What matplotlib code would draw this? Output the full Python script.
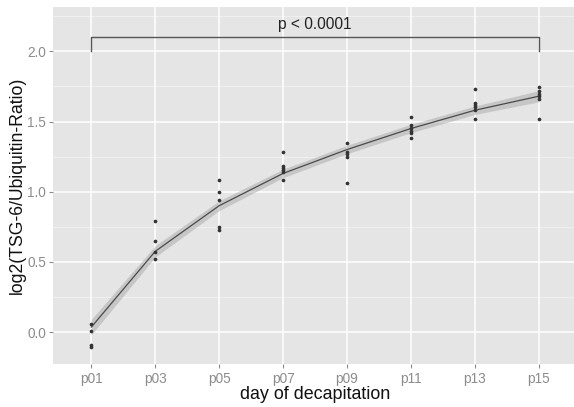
import matplotlib
matplotlib.use("Agg")
import matplotlib.pyplot as plt
import numpy as np

days = ["p01", "p03", "p05", "p07", "p09", "p11", "p13", "p15"]
obs = [
    [0.06, 0.01, -0.09, -0.11],
    [0.79, 0.65, 0.57, 0.52],
    [1.08, 1.00, 0.94, 0.75, 0.73],
    [1.28, 1.185, 1.17, 1.155, 1.14, 1.08],
    [1.35, 1.285, 1.27, 1.25, 1.065],
    [1.53, 1.475, 1.455, 1.435, 1.415, 1.38],
    [1.73, 1.635, 1.62, 1.605, 1.58, 1.515],
    [1.745, 1.72, 1.695, 1.68, 1.66, 1.515],
]
fit = [0.035, 0.575, 0.90, 1.13, 1.30, 1.45, 1.58, 1.68]
ci_half = [0.055, 0.04, 0.035, 0.03, 0.03, 0.03, 0.03, 0.04]
y_ticks = [0.0, 0.5, 1.0, 1.5, 2.0]
p_label = "p < 0.0001"
bracket_low, bracket_high = 2.0, 2.1

W, H = 574, 407
fig = plt.figure(figsize=(W / 100, H / 100), dpi=100)
plt.rcParams['font.family'] = ['Liberation Sans', 'DejaVu Sans']

left, right, top, bottom = 53, 577, 7, 364
ax = fig.add_axes([left / W, 1 - bottom / H, (right - left) / W, (bottom - top) / H])
ax.set_facecolor("#E5E5E5")
for s in ax.spines.values():
    s.set_visible(False)

x = np.arange(len(days))
ax.set_xlim(-0.6, len(days) - 1 + 0.6)
ax.set_ylim(-0.228, 2.316)

# minor grid
for yv in np.arange(-0.25, 2.31, 0.5):
    ax.axhline(yv, color="#F2F2F2", lw=0.6, zorder=0)
for yv in y_ticks:
    ax.axhline(yv, color="white", lw=1.1, zorder=0)
for xv in x:
    ax.axvline(xv, color="white", lw=1.1, zorder=0)

fit = np.array(fit)
ci = np.array(ci_half)
ax.fill_between(x, fit - ci, fit + ci, color="#999999", alpha=0.4, lw=0, zorder=2)
ax.plot(x, fit, color="#4a4a4a", lw=0.9, zorder=3)

for i, vals in enumerate(obs):
    ax.scatter([x[i]] * len(vals), vals, s=7, color="#333333", zorder=4, linewidths=0)

ax.plot([x[0], x[0], x[-1], x[-1]], [bracket_low, bracket_high, bracket_high, bracket_low],
        color="#555555", lw=1.0, zorder=3)
ax.text((x[0] + x[-1]) / 2, 2.157, p_label, ha="center", va="baseline",
        fontsize=11.2, color="#222222")

ax.set_xticks(x)
ax.set_xticklabels(days)
ax.set_yticks(y_ticks)
ax.set_yticklabels([f"{v:.1f}" for v in y_ticks])
ax.tick_params(axis="both", colors="#8c8c8c", labelcolor="#8c8c8c", labelsize=9.8,
               length=3, width=0.8)
ax.tick_params(axis="x", pad=3)
ax.tick_params(axis="y", pad=2)
ax.set_xlabel("day of decapitation", fontsize=12.9, color="#111111", labelpad=0)
ax.set_ylabel("log2(TSG-6/Ubiquitin-Ratio)", fontsize=12.7, color="#111111", labelpad=1)

fig.savefig("out.png", dpi=100)
